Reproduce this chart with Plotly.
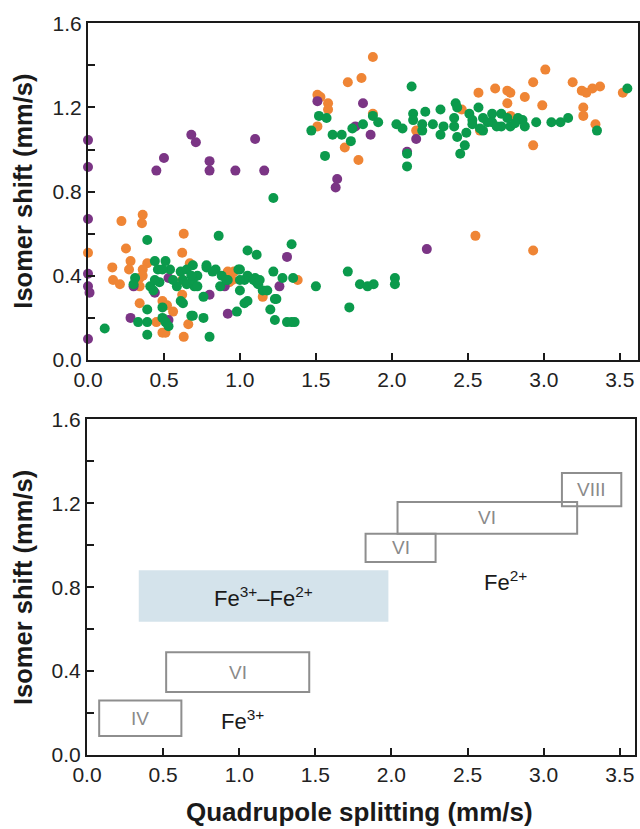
import plotly.graph_objects as go

# ---- Top panel data (quadrupole splitting, isomer shift) ----
orange_x = [0.00, 0.22, 0.36, 0.355, 0.25, 0.16, 0.165, 0.21, 0.28, 0.27, 0.39, 0.36, 0.34, 0.34,
            0.63, 0.62, 0.67, 0.49, 0.52, 0.56, 0.49, 0.51, 0.63, 0.66, 0.45, 0.62, 0.62, 1.38,
            1.15, 0.93, 0.96, 0.34, 0.36, 0.92, 0.95,
            1.875, 1.71, 1.80, 1.51, 1.53, 1.58, 1.58, 1.51, 1.875, 1.69, 1.78, 2.57, 2.68,
            2.76, 2.78, 2.76, 2.875, 2.93, 3.01, 2.99, 3.19, 3.25, 3.28, 3.32, 3.37, 3.26,
            3.26, 3.34, 2.93, 3.52, 2.46, 2.58, 2.78, 2.16, 2.55, 2.93]
orange_y = [0.51, 0.66, 0.69, 0.65, 0.53, 0.44, 0.38, 0.36, 0.47, 0.43, 0.46, 0.43, 0.39, 0.35,
            0.60, 0.51, 0.46, 0.28, 0.26, 0.23, 0.13, 0.13, 0.11, 0.17, 0.18, 0.31, 0.38, 0.38,
            0.30, 0.37, 0.42, 0.27, 0.40, 0.42, 0.38,
            1.44, 1.32, 1.34, 1.26, 1.25, 1.22, 1.19, 1.11, 1.17, 1.01, 0.95, 1.27, 1.29,
            1.28, 1.27, 1.22, 1.25, 1.32, 1.38, 1.21, 1.32, 1.28, 1.27, 1.29, 1.30, 1.20,
            1.16, 1.12, 1.02, 1.27, 1.19, 1.09, 1.16, 1.09, 0.59, 0.52]

purple_x = [0.00, 0.00, 0.68, 0.71, 0.45, 0.50, 0.80, 0.80, 0.97, 1.10, 1.16, 1.51, 1.81, 1.76,
            1.86, 2.16, 2.10, 1.64, 1.63, 2.23, 0.00, 0.00, 0.00, 0.01, 0.00, 0.28, 0.30, 0.44,
            0.53, 0.92, 0.80, 1.31, 1.26, 0.90, 0.53]
purple_y = [1.045, 0.917, 1.07, 1.035, 0.90, 0.96, 0.945, 0.90, 0.90, 1.05, 0.90, 1.23, 1.22, 1.11,
            1.07, 1.05, 0.99, 0.86, 0.82, 0.527, 0.67, 0.41, 0.35, 0.32, 0.10, 0.20, 0.35, 0.32,
            0.19, 0.22, 0.31, 0.49, 0.35, 0.35, 0.39]

green_x = [2.13, 3.55, 3.35, 1.56, 2.10, 2.10, 2.45, 2.48, 2.43, 1.73, 1.52, 1.57, 1.47, 1.61,
           1.67, 1.74, 1.81, 1.875, 1.91, 2.03, 2.07, 2.14, 2.14, 2.22, 2.20, 2.20, 2.32, 2.27,
           2.34, 2.32, 2.42, 2.43, 2.41, 2.41, 2.49, 2.51, 2.53, 2.53, 2.57, 2.60, 2.60, 2.66,
           2.66, 2.72, 2.72, 2.78, 2.83, 2.86, 2.875, 2.95, 3.05, 3.11, 3.16, 2.58, 2.69, 2.63,
           2.76, 2.81,
           1.22, 0.39, 0.86, 1.05, 1.11, 1.34, 0.11, 0.31, 0.39, 0.33, 0.39, 0.39, 0.44, 0.51,
           0.49, 0.49, 0.51, 0.53, 0.61, 0.625, 0.69, 0.68, 0.76, 0.80, 0.76, 0.78, 0.98, 1.05,
           1.03, 1.20, 1.23, 1.31, 1.34, 1.36, 1.22, 1.28, 1.35, 1.50, 1.11, 1.15, 1.24, 1.00,
           1.05, 1.03, 1.71, 1.79, 1.84, 1.88, 1.72, 2.02, 2.02, 0.47, 0.54, 0.61, 0.625, 0.41,
           0.44, 0.69, 0.78, 0.84, 0.88, 0.92, 0.99, 1.09, 1.12, 1.18, 1.23, 0.72, 0.70, 0.46,
           0.585, 0.65, 0.69, 0.43, 0.30, 0.49, 0.56, 0.65, 0.68, 0.72, 0.82, 0.87, 0.91, 1.00,
           1.00, 1.10, 1.13]
green_y = [1.30, 1.29, 1.09, 0.97, 0.98, 0.92, 0.98, 1.02, 1.06, 1.04, 1.16, 1.15, 1.09, 1.07,
           1.07, 1.10, 1.12, 1.16, 1.13, 1.12, 1.10, 1.17, 1.14, 1.18, 1.09, 1.12, 1.19, 1.12,
           1.11, 1.07, 1.22, 1.20, 1.15, 1.11, 1.08, 1.17, 1.14, 1.12, 1.20, 1.15, 1.09, 1.17,
           1.13, 1.17, 1.11, 1.11, 1.15, 1.14, 1.11, 1.13, 1.13, 1.13, 1.15, 1.10, 1.11, 1.13,
           1.15, 1.125,
           0.77, 0.57, 0.59, 0.52, 0.50, 0.55, 0.15, 0.39, 0.24, 0.18, 0.18, 0.12, 0.47, 0.47,
           0.25, 0.20, 0.18, 0.16, 0.28, 0.27, 0.45, 0.21, 0.20, 0.11, 0.30, 0.45, 0.23, 0.28,
           0.27, 0.24, 0.19, 0.18, 0.18, 0.18, 0.42, 0.39, 0.39, 0.35, 0.37, 0.33, 0.29, 0.43,
           0.40, 0.38, 0.42, 0.36, 0.35, 0.36, 0.25, 0.39, 0.36, 0.37, 0.43, 0.42, 0.38, 0.35,
           0.38, 0.21, 0.44, 0.43, 0.40, 0.38, 0.43, 0.38, 0.36, 0.33, 0.29, 0.40, 0.35, 0.43,
           0.35, 0.36, 0.38, 0.33, 0.36, 0.43, 0.38, 0.43, 0.40, 0.35, 0.42, 0.35, 0.38, 0.38,
           0.33, 0.39, 0.38]

# ---- Bottom panel: coordination ranges ----
box_x0 = [0.08, 0.52, 1.83, 2.04, 3.12]
box_x1 = [0.62, 1.46, 2.29, 3.22, 3.51]
box_y0 = [0.09, 0.30, 0.92, 1.055, 1.185]
box_y1 = [0.26, 0.49, 1.055, 1.206, 1.344]
box_labels = ["IV", "VI", "VI", "VI", "VIII"]

mixed_x = [0.34, 1.98]
mixed_y = [0.635, 0.88]

fe_labels = ["Fe<sup>3+</sup>", "Fe<sup>2+</sup>", "Fe<sup>3+</sup>–Fe<sup>2+</sup>"]
fe_x = [1.02, 2.75, 1.16]
fe_y = [0.165, 0.83, 0.755]

x_ticks = [0.0, 0.5, 1.0, 1.5, 2.0, 2.5, 3.0, 3.5]
y_ticks = [0.0, 0.4, 0.8, 1.2, 1.6]

ORANGE = "#ef8535"
GREEN = "#0b9a4c"
PURPLE = "#7b3585"
FONT = "Liberation Sans, Arial, sans-serif"

fig = go.Figure()
for xs, ys, c in [(orange_x, orange_y, ORANGE), (purple_x, purple_y, PURPLE), (green_x, green_y, GREEN)]:
    fig.add_trace(go.Scatter(x=xs, y=ys, mode="markers", xaxis="x", yaxis="y",
                             marker=dict(size=10, color=c, line=dict(width=0)),
                             showlegend=False, hoverinfo="skip", cliponaxis=False))

# invisible trace to anchor bottom axes
fig.add_trace(go.Scatter(x=[None], y=[None], xaxis="x2", yaxis="y2", showlegend=False))

# blue mixed-valence region
fig.add_shape(type="rect", xref="x2", yref="y2", x0=mixed_x[0], x1=mixed_x[1],
              y0=mixed_y[0], y1=mixed_y[1], fillcolor="#d4e3eb", line=dict(width=0), layer="below")

for x0, x1, y0, y1, lab in zip(box_x0, box_x1, box_y0, box_y1, box_labels):
    fig.add_shape(type="rect", xref="x2", yref="y2", x0=x0, x1=x1, y0=y0, y1=y1,
                  line=dict(color="#8e8e8e", width=2), fillcolor="rgba(0,0,0,0)")
    fig.add_annotation(x=(x0 + x1) / 2, y=(y0 + y1) / 2, xref="x2", yref="y2", text=lab,
                       showarrow=False, xanchor="center", yanchor="middle",
                       font=dict(family=FONT, size=19, color="#8a8a8a"))

for t, x, y in zip(fe_labels, fe_x, fe_y):
    fig.add_annotation(x=x, y=y, xref="x2", yref="y2", text=t, showarrow=False,
                       xanchor="center", yanchor="middle",
                       font=dict(family=FONT, size=22, color="#1a1a1a"))

axis_common = dict(showgrid=False, zeroline=False, showline=True, linewidth=2, linecolor="#1a1a1a",
                   mirror=True, ticks="inside", ticklen=7, tickwidth=2, tickcolor="#1a1a1a",
                   automargin=False,
                   tickfont=dict(family=FONT, size=21, color="#222"))

fig.update_layout(
    template="none",
    width=640, height=829, margin=dict(l=0, r=0, t=0, b=0, pad=0),
    paper_bgcolor="white", plot_bgcolor="white",
    xaxis=dict(domain=[88/640, 638/640], range=[0, 3.62], anchor="y",
               tickvals=x_ticks, ticktext=[f"{v:.1f}" for v in x_ticks], **axis_common),
    yaxis=dict(domain=[1-360/829, 1-23.3/829], range=[0, 1.6], anchor="x",
               tickvals=y_ticks, ticktext=[f"{v:.1f}" for v in y_ticks],
               minor=dict(dtick=0.2, ticks="inside", ticklen=7, tickwidth=2, tickcolor="#1a1a1a"),
               **axis_common),
    xaxis2=dict(domain=[87/640, 635/640], range=[0, 3.6], anchor="y2",
                tickvals=x_ticks, ticktext=[f"{v:.1f}" for v in x_ticks], **axis_common),
    yaxis2=dict(domain=[1-755/829, 1-419.3/829], range=[0, 1.6], anchor="x2",
                tickvals=y_ticks, ticktext=[f"{v:.1f}" for v in y_ticks],
                minor=dict(dtick=0.2, ticks="inside", ticklen=7, tickwidth=2, tickcolor="#1a1a1a"),
                **axis_common),
)

for yc in [1-191.7/829, 1-588/829]:
    fig.add_annotation(x=23/640, y=yc, xref="paper", yref="paper", text="<b>Isomer shift (mm/s)</b>",
                       textangle=-90, showarrow=False, xanchor="center", yanchor="middle",
                       font=dict(family=FONT, size=25.5, color="#1a1a1a"))
fig.add_annotation(x=359/640, y=1-812/829, xref="paper", yref="paper",
                   text="<b>Quadrupole splitting (mm/s)</b>", showarrow=False,
                   xanchor="center", yanchor="middle",
                   font=dict(family=FONT, size=26, color="#1a1a1a"))

fig.write_html("out.html")
